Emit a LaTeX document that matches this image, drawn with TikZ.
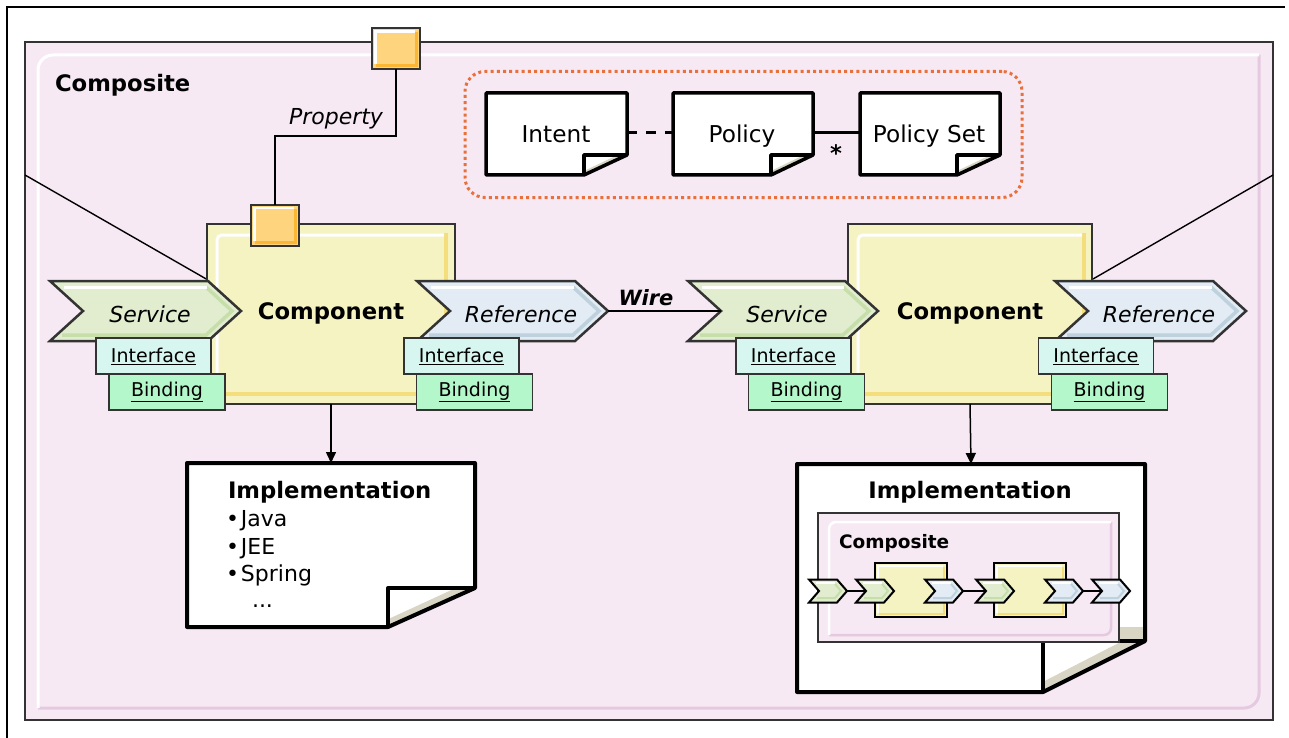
\documentclass[tikz,border=0pt]{standalone}
\usepackage{fontspec}
\setmainfont{DejaVu Sans}[BoldFont={DejaVu Sans Bold},ItalicFont={DejaVu Sans Oblique},BoldItalicFont={DejaVu Sans Bold Oblique}]
\usetikzlibrary{arrows.meta}
\definecolor{pinkbg}{HTML}{F6E9F3}
\definecolor{pinkdk}{HTML}{E5C9E0}
\definecolor{compy}{HTML}{F6F3C3}
\definecolor{compydk}{HTML}{F3DD7C}
\definecolor{propor}{HTML}{FFD47E}
\definecolor{propdk}{HTML}{FBB733}
\definecolor{svcg}{HTML}{E2EDCF}
\definecolor{svcdk}{HTML}{C6DFAA}
\definecolor{refb}{HTML}{E3EBF5}
\definecolor{refdk}{HTML}{BDD2DC}
\definecolor{ifc}{HTML}{D8F6F0}
\definecolor{bnd}{HTML}{B3F7CA}
\definecolor{edge}{HTML}{333333}
\definecolor{beige}{HTML}{D9D5C5}
\definecolor{dotor}{HTML}{E8703C}

% big chevron: x1, x2, ymid, fill, dark
\newcommand\bigchev[5]{%
 \fill[#4] (#1,#3-30) -- (#2,#3-30) -- (#2+33,#3) -- (#2,#3+30) -- (#1,#3+30) -- (#1+33,#3) -- cycle;
 \draw[#5, line width=3.5pt, line join=miter] (#2-2,#3-24) -- (#2+24,#3) -- (#2-2,#3+24) -- (#1+12,#3+24);
 \draw[white, line width=3pt] (#1+14,#3-24) -- (#2-1,#3-24);
 \draw[edge, line width=2.5pt, line join=miter] (#1,#3-30) -- (#2,#3-30) -- (#2+33,#3) -- (#2,#3+30) -- (#1,#3+30) -- (#1+33,#3) -- cycle;
}
% small chevron: x1, ymid, fill, dark
\newcommand\smchev[4]{%
 \fill[#3] (#1,#2-11.5) -- (#1+28,#2-11.5) -- (#1+38,#2) -- (#1+28,#2+11.5) -- (#1,#2+11.5) -- (#1+10,#2) -- cycle;
 \draw[#4, line width=2pt] (#1+26,#2-7) -- (#1+32,#2) -- (#1+26,#2+7) -- (#1+8,#2+7);
 \draw[white, line width=1.5pt] (#1+7,#2-8) -- (#1+26,#2-8);
 \draw[black, line width=2pt, line join=miter] (#1,#2-11.5) -- (#1+28,#2-11.5) -- (#1+38,#2) -- (#1+28,#2+11.5) -- (#1,#2+11.5) -- (#1+10,#2) -- cycle;
}
% document page: x1,y1,x2,y2,foldx,foldy,linewidth
\newcommand\docpage[7]{%
 \fill[white] (#1,#2) -- (#3,#2) -- (#3,#6) -- (#5,#4) -- (#1,#4) -- cycle;
 \fill[beige] (#5,#4) -- (#5,{#4-0.2*(#4-#6)}) -- ({#3-0.22*(#3-#5)},#6) -- (#3,#6) -- cycle;
 \draw[black, line width=#7, line join=round] (#1,#2) -- (#3,#2) -- (#3,#6) -- (#5,#4) -- (#1,#4) -- cycle;
 \draw[black, line width=#7, line join=round] (#5,#4) -- (#5,#6) -- (#3,#6);
}
% property square bevel: x1,y1,x2,y2
\newcommand\propbevel[4]{%
 \draw[propdk, line width=3pt] (#1+4,#4-3.5) -- (#3-3.5,#4-3.5) -- (#3-3.5,#2+4);
 \draw[white, line width=2.5pt] (#1+3.5,#4-5) -- (#1+3.5,#2+3.5) -- (#3-5,#2+3.5);
}
% small yellow box bevel: x1,y1,x2,y2
\newcommand\smallbevel[4]{%
 \draw[compydk, line width=2.5pt] (#3-3,#2+4) -- (#3-3,#4-3) -- (#1+4,#4-3);
 \draw[white, line width=2pt] (#1+3,#4-4) -- (#1+3,#2+3) -- (#3-4,#2+3);
}

\begin{document}
\begin{tikzpicture}[x=1pt,y=-1pt,
  every node/.style={inner sep=0pt, outer sep=0pt},
  txt/.style={font=\fontsize{22}{26}\selectfont},
  ptxt/.style={font=\fontsize{23.2}{26}\selectfont},
  btxt/.style={font=\fontsize{22.7}{26}\selectfont\bfseries},
  itxt/.style={font=\fontsize{22}{26}\selectfont\itshape},
  bitxt/.style={font=\fontsize{21}{26}\selectfont\bfseries\itshape},
  stxt/.style={font=\fontsize{19}{22}\selectfont},
  sbtxt/.style={font=\fontsize{18.5}{22}\selectfont\bfseries},
  ifbox/.style={draw=edge, fill=ifc, line width=1.5pt, minimum width=115pt, minimum height=36pt, stxt},
  bdbox/.style={draw=edge, fill=bnd, line width=1.5pt, minimum width=116pt, minimum height=36pt, stxt},
  compbox/.style={draw=edge, fill=compy, line width=2pt},
  propbox/.style={draw=edge, fill=propor, line width=2pt, minimum width=48pt, minimum height=41pt},
  arr/.style={-{Triangle[length=11pt,width=10pt]}, line width=1.5pt},
  thinln/.style={black, line width=1.4pt},
]
\useasboundingbox (0,0) rectangle (1289,738);
\fill[white] (0,0) rectangle (1289,738);

% outer frame
\coordinate (fr1) at (7,738);
\coordinate (fr2) at (7,7);
\coordinate (fr3) at (1285,7);
\draw[thinln] (fr1) -- (fr2) -- (fr3);

% main composite
\node[draw=edge, fill=pinkbg, line width=2pt, minimum width=1248pt, minimum height=678pt] (comp) at (649,381) {};
\draw[pinkdk, line width=3pt, rounded corners=15pt] (1259,55) -- (1259,708) -- (38,708);
\draw[white, line width=3pt, rounded corners=15pt] (38,708) -- (38,55) -- (1259,55);
\node[btxt, anchor=base west] (complbl) at (55,92) {Composite};

% diagonal lines
\coordinate (dl1) at (25,175);
\coordinate (dl2) at (208,280);
\coordinate (dr1) at (1273,175);
\coordinate (dr2) at (1093,279);
\draw[thinln] (dl1) -- (dl2);
\draw[thinln] (dr1) -- (dr2);

% policy group
\node[draw=dotor, line width=3pt, dash pattern=on 3pt off 3.2pt, rounded corners=20pt, minimum width=557pt, minimum height=126pt] (pgroup) at (743.5,134.5) {};
\docpage{486}{93}{627}{175}{584}{155}{3.5pt}
\docpage{673}{93}{813}{175}{771}{155}{3.5pt}
\docpage{860}{93}{1000}{175}{957}{155}{3.5pt}
\node[minimum width=141pt, minimum height=82pt] (intentdoc) at (556.5,134) {};
\node[minimum width=140pt, minimum height=82pt] (policydoc) at (743,134) {};
\node[minimum width=140pt, minimum height=82pt] (psetdoc) at (930,134) {};
\node[ptxt, anchor=base] (intent) at (556,143) {Intent};
\node[ptxt, anchor=base] (policy) at (742,143) {Policy};
\node[ptxt, anchor=base] (pset) at (929,143) {Policy Set};
\draw[black, line width=3pt, dash pattern=on 10pt off 9pt] ([yshift=1pt]intentdoc.east) -- ([yshift=1pt]policydoc.west);
\draw[black, line width=3pt] ([yshift=1pt]policydoc.east) -- ([yshift=1pt]psetdoc.west);
\node[btxt, anchor=center] (mult) at (836,153) {*};

% left component
\node[compbox, minimum width=248pt, minimum height=180pt] (lcomp) at (331,314) {};
\draw[compydk, line width=4pt] (446,233) -- (446,394) -- (217,394);
\draw[white, line width=3pt, rounded corners=5pt] (217,392) -- (217,235) -- (444,235);
% right component
\node[compbox, minimum width=244pt, minimum height=180pt] (rcomp) at (970,314) {};
\draw[compydk, line width=4pt] (1084,233) -- (1084,394) -- (858,394);
\draw[white, line width=3pt, rounded corners=5pt] (858,392) -- (858,235) -- (1082,235);

% property
\node[propbox] (ptop) at (396,48.5) {};
\propbevel{372}{28}{420}{69}
\node[propbox] (pbot) at (275,225) {};
\propbevel{251}{204.5}{299}{245.5}
\draw[black, line width=2.6pt] (ptop.south) -- ++(0,67) -| (pbot.north);
\node[itxt, anchor=base east] (proplbl) at (383,125) {Property};

% chevrons
\bigchev{50}{208}{311}{svcg}{svcdk}
\bigchev{417}{575}{311}{refb}{refdk}
\bigchev{688}{845}{311}{svcg}{svcdk}
\bigchev{1055}{1213}{311}{refb}{refdk}
\node[itxt, anchor=base] (lsvc) at (150,322) {Service};
\node[itxt, anchor=base] (lref) at (521,322) {Reference};
\node[itxt, anchor=base] (rsvc) at (787,322) {Service};
\node[itxt, anchor=base] (rref) at (1159,322) {Reference};
\node[btxt, anchor=base] (lcomplbl) at (331,319) {Component};
\node[btxt, anchor=base] (rcomplbl) at (970,319) {Component};

% interfaces and bindings
\node[ifbox] (lsif) at (153.5,356) {\underline{Interface}};
\node[bdbox] (lsbd) at (167,392) {\underline{Binding}};
\node[ifbox] (lrif) at (461.5,356) {\underline{Interface}};
\node[bdbox] (lrbd) at (474.5,392) {\underline{Binding}};
\node[ifbox] (rsif) at (793.5,356) {\underline{Interface}};
\node[bdbox] (rsbd) at (806.5,392) {\underline{Binding}};
\node[ifbox] (rrif) at (1096,356) {\underline{Interface}};
\node[bdbox] (rrbd) at (1109.5,392) {\underline{Binding}};

% wire
\coordinate (lreftip) at (608,311);
\coordinate (rsvcnotch) at (721,311);
\draw[black, line width=2pt] (lreftip) -- (rsvcnotch);
\node[bitxt, anchor=base] (wirelbl) at (646,305) {Wire};

% left implementation
\docpage{187}{463}{475}{627}{388}{588}{4pt}
\node[minimum width=288pt, minimum height=164pt] (limp) at (331,545) {};
\draw[arr] (lcomp.south) -- (limp.north);
\node[btxt, anchor=base west] (limpl) at (228,498) {Implementation};
\node[txt, anchor=base west] (ljava) at (226,526) {•\hspace{2pt}Java};
\node[txt, anchor=base west] (ljee) at (226,554) {•\hspace{2pt}JEE};
\node[txt, anchor=base west] (lspring) at (226,581) {•\hspace{2pt}Spring};
\node[txt, anchor=base west] (ldots) at (252,607) {...};

% right implementation
\docpage{797}{464}{1145}{692}{1043}{641}{4pt}
\fill[beige] (1119,627) rectangle (1143,639);
\node[minimum width=348pt, minimum height=228pt] (rimp) at (971,578) {};
\draw[arr] (rcomp.south) -- (rimp.north);
\node[btxt, anchor=base] (rimpl) at (970,498) {Implementation};

% nested composite
\node[draw=edge, fill=pinkbg, line width=1.8pt, minimum width=301pt, minimum height=129pt] (ncomp) at (968.5,577.5) {};
\draw[pinkdk, line width=2.5pt, rounded corners=7pt] (1111,522) -- (1111,635) -- (829,635);
\draw[white, line width=2.5pt, rounded corners=7pt] (829,635) -- (829,522) -- (1111,522);
\node[sbtxt, anchor=base west] (ncomplbl) at (839,548) {Composite};

\coordinate (s1t) at (847,591);
\coordinate (s2n) at (866,591);
\coordinate (s3t) at (963,591);
\coordinate (s4n) at (986,591);
\coordinate (s5t) at (1083,591);
\coordinate (s6n) at (1102,591);
\draw[black, line width=1.8pt] (s1t) -- (s2n);
\draw[black, line width=1.8pt] (s3t) -- (s4n);
\draw[black, line width=1.8pt] (s5t) -- (s6n);

\node[draw=black, fill=compy, line width=1.8pt, minimum width=72pt, minimum height=54pt] (nc1) at (911,590) {};
\smallbevel{875}{563}{947}{617}
\node[draw=black, fill=compy, line width=1.8pt, minimum width=72pt, minimum height=54pt] (nc2) at (1030,590) {};
\smallbevel{994}{563}{1066}{617}

\smchev{809}{591}{svcg}{svcdk}
\smchev{856}{591}{svcg}{svcdk}
\smchev{925}{591}{refb}{refdk}
\smchev{976}{591}{svcg}{svcdk}
\smchev{1045}{591}{refb}{refdk}
\smchev{1092}{591}{refb}{refdk}
\end{tikzpicture}
\end{document}
